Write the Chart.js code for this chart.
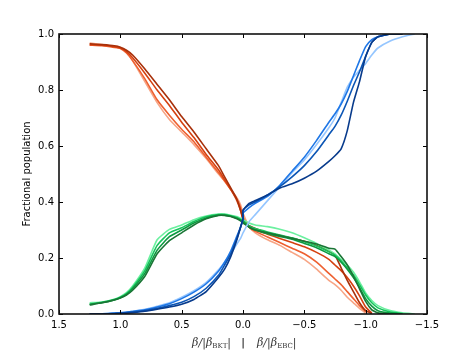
<!DOCTYPE html>
<html>
<head>
<meta charset="utf-8">
<script src="https://cdn.jsdelivr.net/npm/chart.js@4"></script>
<style>
  body { margin: 0; background: #fff; }
</style>
</head>
<body>
<canvas id="chart" width="475" height="350"></canvas>
<script>
// x grid, left half (beta/|beta_BKT|) and right half (beta/|beta_EBC|)
const xLeft  = [1.25, 1.15, 1.05, 1.0, 0.95, 0.9, 0.8, 0.7, 0.6, 0.5, 0.4, 0.3, 0.2, 0.15, 0.1, 0.05, 0.02, 0.0];
const xRight = [0.0, -0.05, -0.1, -0.2, -0.3, -0.4, -0.5, -0.6, -0.7, -0.75, -0.8, -0.85, -0.9, -0.95, -1.0, -1.05, -1.1, -1.2, -1.3, -1.4];

const xTicks = [1.5, 1.0, 0.5, 0.0, -0.5, -1.0, -1.5];
const yTicks = [0.0, 0.2, 0.4, 0.6, 0.8, 1.0];

// orange family
const orDarkL  = [.965, .962, .958, .953, .942, .925, .875, .82, .765, .705, .65, .59, .53, .49, .45, .41, .37, .335];
const orDarkR  = [.33, .315, .305, .29, .28, .27, .26, .245, .225, .21, .165, .12, .08, .04, .012, .002, null, null, null, null];
const orRedL   = [.962, .96, .955, .95, .937, .915, .86, .80, .745, .685, .63, .57, .515, .48, .445, .405, .37, .34];
const orRedR   = [.34, .31, .30, .285, .27, .255, .24, .22, .195, .175, .155, .13, .10, .065, .025, .003, null, null, null, null];
const orMidL   = [.96, .958, .952, .948, .932, .905, .84, .765, .71, .66, .615, .56, .505, .475, .445, .41, .38, .345];
const orMidR   = [.345, .31, .295, .275, .255, .235, .215, .185, .145, .125, .105, .08, .055, .03, .008, null, null, null, null, null];
const orLightL = [.968, .962, .956, .952, .935, .905, .83, .755, .695, .65, .605, .555, .50, .475, .445, .415, .39, .36];
const orLightR = [.36, .31, .29, .265, .245, .22, .195, .16, .12, .105, .085, .06, .04, .02, .003, null, null, null, null, null];

// green family
const grDarkL  = [.032, .04, .05, .057, .068, .085, .135, .215, .262, .29, .318, .34, .352, .352, .348, .34, .333, .325];
const grDarkR  = [.325, .31, .30, .29, .28, .27, .26, .25, .235, .232, .205, .175, .135, .09, .045, .015, .004, 0, null, null];
const grMidL   = [.035, .04, .05, .058, .07, .09, .145, .228, .276, .30, .325, .343, .353, .353, .349, .342, .335, .33];
const grMidR   = [.33, .31, .30, .287, .277, .267, .252, .237, .215, .205, .185, .16, .13, .095, .055, .028, .012, .003, 0, null];
const grBrightL= [.035, .042, .052, .06, .073, .095, .155, .245, .29, .308, .33, .347, .355, .355, .351, .345, .338, .333];
const grBrightR= [.333, .315, .305, .293, .282, .272, .258, .243, .222, .21, .19, .165, .14, .105, .068, .04, .022, .007, .001, null];
const grLightL = [.04, .043, .053, .062, .076, .10, .165, .265, .302, .318, .337, .35, .357, .357, .353, .348, .342, .338];
const grLightR = [.338, .325, .318, .312, .303, .29, .272, .252, .228, .215, .195, .175, .15, .115, .075, .048, .03, .012, .004, 0];

// blue family
const blDarkL  = [0, 0, .001, .002, .003, .005, .01, .017, .025, .035, .052, .08, .13, .16, .205, .265, .31, .34];
const blDarkR  = [.37, .395, .405, .425, .45, .465, .485, .51, .545, .565, .59, .655, .755, .83, .92, .97, .99, 1.0, 1.0, null];
const blMidL   = [0, 0, .002, .003, .005, .007, .012, .02, .03, .042, .062, .092, .138, .175, .215, .27, .31, .34];
const blMidR   = [.37, .39, .40, .425, .455, .49, .53, .58, .64, .67, .71, .76, .815, .865, .92, .97, .99, 1.0, 1.0, null];
const blBrightL= [0, .001, .003, .004, .006, .009, .015, .025, .037, .055, .078, .108, .153, .185, .225, .278, .31, .34];
const blBrightR= [.36, .38, .395, .42, .46, .51, .56, .62, .685, .715, .75, .795, .85, .905, .955, .98, .99, 1.0, 1.0, null];
const blLightL = [0, .001, .003, .005, .007, .01, .017, .028, .04, .06, .083, .113, .158, .185, .215, .25, .27, .29];
const blLightR = [.29, .33, .355, .405, .455, .505, .55, .605, .665, .70, .755, .81, .845, .87, .895, .925, .95, .975, .99, 1.0];

// join both halves into {x,y} points
function pts(left, right) {
  const out = [];
  xLeft.forEach((x, i) => { if (left[i] !== null) out.push({x: x, y: left[i]}); });
  xRight.forEach((x, i) => { if (right[i] !== null) out.push({x: x, y: right[i]}); });
  return out;
}

function ds(left, right, color) {
  return {
    data: pts(left, right),
    borderColor: color,
    borderWidth: 1.6,
    pointRadius: 0,
    showLine: true,
    fill: false,
    tension: 0.15
  };
}

// first dataset ends up on top
const datasets = [
  ds(blDarkL, blDarkR, '#083b8c'),
  ds(blMidL, blMidR, '#0b55b5'),
  ds(blBrightL, blBrightR, '#1f77e6'),
  ds(blLightL, blLightR, '#95c6ff'),
  ds(grDarkL, grDarkR, '#1a7535'),
  ds(grMidL, grMidR, '#0c9a40'),
  ds(grBrightL, grBrightR, '#16c45c'),
  ds(grLightL, grLightR, '#6cf0a0'),
  ds(orDarkL, orDarkR, '#a8300a'),
  ds(orRedL, orRedR, '#d5400f'),
  ds(orMidL, orMidR, '#ee6030'),
  ds(orLightL, orLightR, '#f7a585')
];

function fmt(v) {
  const s = Math.abs(v).toFixed(1);
  return v < -1e-9 ? '\u2212' + s : s;
}

// frame, inward ticks and the x label with subscripts
const framePlugin = {
  id: 'frame',
  afterDraw(chart) {
    const c = chart.ctx;
    const a = chart.chartArea;
    const xs = chart.scales.x, ys = chart.scales.y;
    c.save();
    c.strokeStyle = '#000';
    c.lineWidth = 1;
    c.beginPath();
    xTicks.forEach(t => {
      const px = Math.round(xs.getPixelForValue(t)) + 0.5;
      c.moveTo(px, a.bottom); c.lineTo(px, a.bottom - 4);
      c.moveTo(px, a.top); c.lineTo(px, a.top + 4);
    });
    yTicks.forEach(t => {
      const py = Math.round(ys.getPixelForValue(t)) + 0.5;
      c.moveTo(a.left, py); c.lineTo(a.left + 4, py);
      c.moveTo(a.right, py); c.lineTo(a.right - 4, py);
    });
    c.stroke();
    c.strokeStyle = '#111';
    c.lineWidth = 1.6;
    c.strokeRect(a.left, a.top, a.right - a.left, a.bottom - a.top);

    // x label
    const base = 346;
    const main = 'italic 11px "DejaVu Serif"';
    const sub = '7px "DejaVu Serif"';
    function label(parts, x, alignRight) {
      let w = 0;
      parts.forEach(p => { c.font = p[1]; w += c.measureText(p[0]).width; });
      let cx = alignRight ? x - w : x;
      parts.forEach(p => {
        c.font = p[1];
        c.fillText(p[0], cx, base + p[2]);
        cx += c.measureText(p[0]).width;
      });
    }
    c.fillStyle = '#333';
    c.textBaseline = 'alphabetic';
    c.textAlign = 'left';
    label([['\u03b2/|\u03b2', main, 0], ['BKT', sub, 2], ['|', main, 0]], 231, true);
    label([['\u03b2/|\u03b2', main, 0], ['EBC', sub, 2], ['|', main, 0]], 257, false);
    c.font = '11px "DejaVu Sans"';
    c.fillStyle = '#000';
    c.textAlign = 'center';
    c.fillText('|', 243, base);
    c.restore();
  }
};

const ctx = document.getElementById('chart').getContext('2d');
const myChart = new Chart(ctx, {
  type: 'scatter',
  data: { datasets: datasets },
  options: {
    responsive: false,
    animation: false,
    devicePixelRatio: 1,
    layout: { padding: { left: 17, right: 48, top: 34, bottom: 0 } },
    plugins: { legend: { display: false }, tooltip: { enabled: false } },
    scales: {
      x: {
        type: 'linear',
        reverse: true,
        min: -1.5,
        max: 1.5,
        grid: { display: false, drawTicks: false },
        border: { display: false },
        ticks: {
          stepSize: 0.5,
          padding: 5,
          color: '#000',
          font: { family: 'DejaVu Sans', size: 10 },
          maxRotation: 0,
          callback: v => fmt(v)
        },
        afterFit: s => { s.height = 36; }
      },
      y: {
        min: 0,
        max: 1,
        grid: { display: false, drawTicks: false },
        border: { display: false },
        ticks: {
          stepSize: 0.2,
          padding: 5,
          color: '#000',
          font: { family: 'DejaVu Sans', size: 10 },
          callback: v => fmt(v)
        },
        title: {
          display: true,
          text: 'Fractional population',
          color: '#000',
          font: { family: 'DejaVu Sans', size: 10 }
        },
        afterFit: s => { s.width = 42; }
      }
    }
  },
  plugins: [framePlugin]
});
</script>
</body>
</html>
